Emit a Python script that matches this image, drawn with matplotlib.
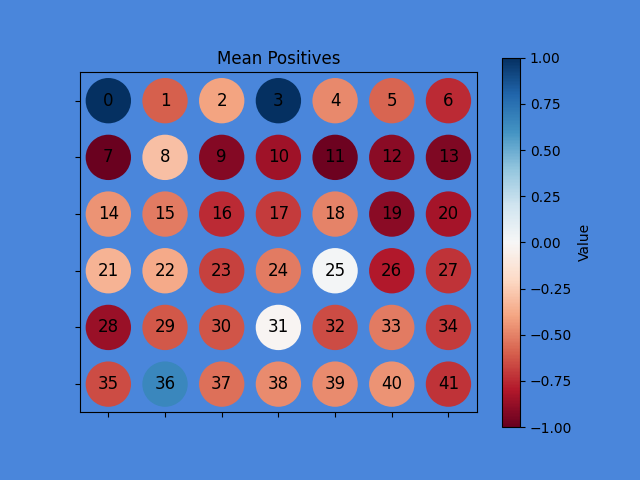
import numpy as np
import matplotlib
matplotlib.use("Agg")
import matplotlib.pyplot as plt
from matplotlib.patches import Circle
from matplotlib.collections import PatchCollection

n_rows = 6
n_cols = 7
values = [
    1.00, -0.60, -0.40, 1.00, -0.48, -0.58, -0.75,
    -0.99, -0.30, -0.92, -0.85, -0.98, -0.90, -0.93,
    -0.45, -0.52, -0.75, -0.70, -0.50, -0.90, -0.83,
    -0.35, -0.38, -0.68, -0.52, 0.02, -0.80, -0.72,
    -0.86, -0.62, -0.63, -0.02, -0.65, -0.52, -0.70,
    -0.65, 0.65, -0.55, -0.47, -0.47, -0.45, -0.72,
]
labels = [str(i) for i in range(n_rows * n_cols)]

bg = "#4a86db"
fig, ax = plt.subplots(figsize=(6.4, 4.8), dpi=100)
fig.patch.set_facecolor(bg)
ax.set_facecolor(bg)

circles = []
for i in range(n_rows * n_cols):
    r, c = divmod(i, n_cols)
    circles.append(Circle((c, r), 0.4))
pc = PatchCollection(circles, cmap="RdBu")
pc.set_array(np.array(values))
pc.set_clim(-1, 1)
ax.add_collection(pc)

for i, lab in enumerate(labels):
    r, c = divmod(i, n_cols)
    ax.text(c, r, lab, ha="center", va="center", fontsize=12, color="black")

ax.set_xlim(-0.5, n_cols - 0.5)
ax.set_ylim(n_rows - 0.5, -0.5)
ax.set_aspect("equal")
ax.set_xticks(range(n_cols))
ax.set_yticks(range(n_rows))
ax.set_xticklabels([])
ax.set_yticklabels([])
ax.set_title("Mean Positives")

cb = fig.colorbar(pc, ax=ax)
cb.set_label("Value")

fig.savefig("out.png", facecolor=bg)
